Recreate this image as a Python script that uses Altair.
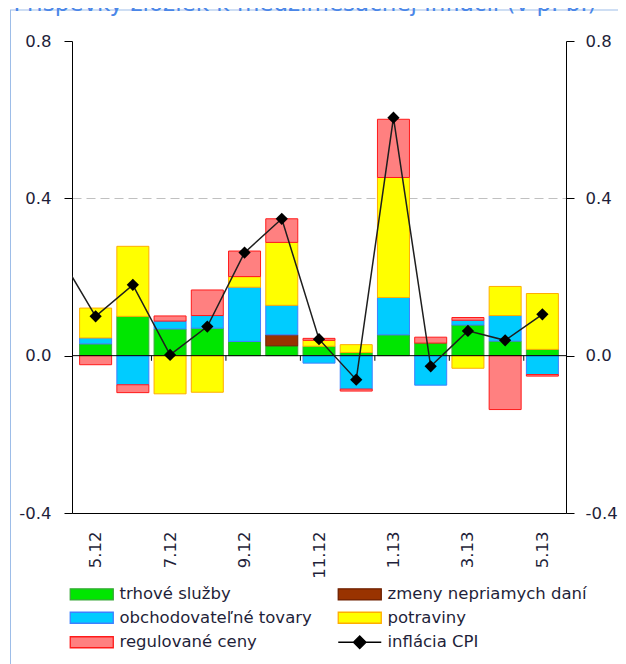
import json
import pandas as pd
import altair as alt

# ---------------- data ----------------
months = ["5.12", "6.12", "7.12", "8.12", "9.12", "10.12", "11.12",
          "12.12", "1.13", "2.13", "3.13", "4.13", "5.13"]

series_names = ["trhové služby", "zmeny nepriamych daní", "obchodovateľné tovary",
                "potraviny", "regulované ceny"]
cpi_name = "inflácia CPI"

trhove_sluzby = [0.030, 0.100, 0.068, 0.070, 0.036, 0.025, 0.024, 0.008, 0.053, 0.032, 0.078, 0.037, 0.016]
zmeny_dani    = [0.000, 0.000, 0.000, 0.000, 0.000, 0.028, 0.000, 0.000, 0.000, 0.000, 0.000, 0.000, 0.000]
obchod_tovary = [0.015, -0.074, 0.020, 0.032, 0.138, 0.075, -0.019, -0.085, 0.095, -0.075, 0.012, 0.065, -0.048]
potraviny     = [0.076, 0.178, -0.097, -0.093, 0.027, 0.160, 0.015, 0.020, 0.305, 0.000, -0.032, 0.074, 0.142]
regul_ceny    = [-0.023, -0.020, 0.013, 0.065, 0.065, 0.060, 0.005, -0.005, 0.148, 0.015, 0.007, -0.137, -0.004]

cpi_prev = 0.26   # 4.12, only its segment into the plot is visible
cpi = [0.100, 0.180, 0.002, 0.074, 0.262, 0.348, 0.042, -0.061, 0.605, -0.027, 0.063, 0.039, 0.105]

fills = ["#00e600", "#993300", "#00ccff", "#ffff00", "#ff8080", "#000000"]
strokes = ["#3aa83a", "#6e2000", "#3d80ff", "#ffad00", "#ff1a1a", "#000000"]

title_text = "Príspevky zložiek k medzimesačnej inflácii (v p. b.)"

# ---------------- tables ----------------
rows = []
for s_idx, (name, vals) in enumerate(zip(series_names,
                                         [trhove_sluzby, zmeny_dani, obchod_tovary, potraviny, regul_ceny])):
    for i, v in enumerate(vals):
        if v != 0:
            rows.append({"idx": i, "series": name, "ord": s_idx, "value": v})
bars_df = pd.DataFrame(rows)

line_df = pd.DataFrame({"idx": [-1] + list(range(len(months))), "cpi": [cpi_prev] + cpi})
pts_df = pd.DataFrame({"idx": list(range(len(months))), "cpi": cpi})
tick_df = pd.DataFrame({"idx": [i - 0.5 for i in range(2, len(months), 2)]})
tick_df["z"] = 0.0
tick_df["z2"] = -0.013
zero_df = pd.DataFrame({"zero": [0.0]})
one_df = pd.DataFrame({"a": [0]})

# ---------------- styling ----------------
FONT = "DejaVu Sans"
TXT = "#1f1f3a"
FS = 16.5

domain_all = series_names + [cpi_name]
fill_scale = alt.Scale(domain=domain_all, range=fills)
stroke_scale = alt.Scale(domain=domain_all, range=strokes)

ys = alt.Scale(domain=[-0.4, 0.8], nice=False, zero=False)
xs = alt.Scale(domain=[-0.5, len(months) - 0.5], nice=False, zero=False)

x_axis = alt.Axis(values=list(range(0, len(months), 2)),
                  labelExpr=json.dumps(months) + "[datum.value]",
                  title=None, ticks=False, tickSize=0, grid=False,
                  labelAngle=270, labelAlign="right", labelBaseline="middle",
                  labelPadding=18, labelFontSize=FS, labelFont=FONT, labelColor=TXT,
                  domainColor="#000000", domainWidth=1)
x_enc = alt.X("idx:Q", scale=xs, axis=x_axis)

ylab = "datum.value < 0 ? '-' + format(-datum.value, '.1f') : format(datum.value, '.1f')"
y_left = alt.Axis(values=[-0.4, 0, 0.4, 0.8], labelExpr=ylab, title=None, orient="left",
                  tickSize=8, tickColor="#000000", domainColor="#000000",
                  labelPadding=13, labelFontSize=FS, labelFont=FONT, labelColor=TXT,
                  grid=True, gridDash=[9, 5], gridColor="#c0c0c0", gridWidth=1.2,
                  gridOpacity={"condition": {"test": "abs(datum.value - 0.4) < 0.001", "value": 1},
                               "value": 0})
y_right = alt.Axis(values=[-0.4, 0, 0.4, 0.8], labelExpr=ylab, title=None, orient="right",
                   tickSize=8, tickColor="#000000", domainColor="#000000",
                   labelPadding=11, labelFontSize=FS, labelFont=FONT, labelColor=TXT, grid=False)

rect_path = "M-1,-0.92H6.17V0.92H-1Z"
cpi_path = "M-1,0H6.17M2.58,-1.05L3.63,0L2.58,1.05L1.53,0Z"
legend = alt.Legend(title=None, orient="none", legendX=-4, legendY=545, columns=2,
                    direction="horizontal",
                    columnPadding=23, rowPadding=6.5, symbolSize=144, symbolStrokeWidth=1.3,
                    labelFontSize=FS, labelFont=FONT, labelColor=TXT, labelOffset=35,
                    labelLimit=400, padding=0,
                    symbolType={"expr": "datum.value == '" + cpi_name + "' ? '" + cpi_path
                                + "' : '" + rect_path + "'"})

# ---------------- layers ----------------
frame_v = alt.Chart(one_df).mark_rule(color="#9dbde8", strokeWidth=1).encode(
    x=alt.value(-61.5), y=alt.value(-31), y2=alt.value(623))
frame_h = alt.Chart(one_df).mark_rule(color="#9dbde8", strokeWidth=1).encode(
    x=alt.value(-62), x2=alt.value(560), y=alt.value(-31))
title = alt.Chart(one_df).mark_text(text=title_text, fontSize=23, font=FONT, color="#4a86e8",
                                    align="center", baseline="alphabetic").encode(
    x=alt.value(233), y=alt.value(-30))

bars = alt.Chart(bars_df).mark_bar(size=32, strokeWidth=1).encode(
    x=x_enc,
    y=alt.Y("value:Q", stack="zero", scale=ys, axis=y_left),
    order=alt.Order("ord:Q", sort="ascending"),
    fill=alt.Fill("series:N", scale=fill_scale, legend=legend),
    stroke=alt.Stroke("series:N", scale=stroke_scale, legend=legend),
)

zero = alt.Chart(zero_df).mark_rule(color="#000000", strokeWidth=1).encode(
    y=alt.Y("zero:Q", scale=ys, axis=y_right))

ticks = alt.Chart(tick_df).mark_rule(color="#000000", strokeWidth=1).encode(
    x=x_enc, y=alt.Y("z:Q", scale=ys, axis=None), y2="z2:Q")

line = alt.Chart(line_df).mark_line(color="#1e1e1e", strokeWidth=1.5, clip=True).encode(
    x=x_enc, y=alt.Y("cpi:Q", scale=ys, axis=None))

points = alt.Chart(pts_df).mark_point(shape="diamond", filled=True, size=150, color="#000000",
                                      opacity=1).encode(
    x=x_enc, y=alt.Y("cpi:Q", scale=ys, axis=None))

chart = alt.layer(frame_v, frame_h, title, bars, zero, ticks, line, points).resolve_scale(
    y="independent"
).properties(
    width=494, height=472,
    padding={"left": 64, "top": 33, "right": 52, "bottom": 151},
    autosize=alt.AutoSizeParams(type="none"),
).configure(font=FONT).configure_view(strokeWidth=0)

chart.save("out.html", embed_options={"renderer": "svg", "actions": False})
